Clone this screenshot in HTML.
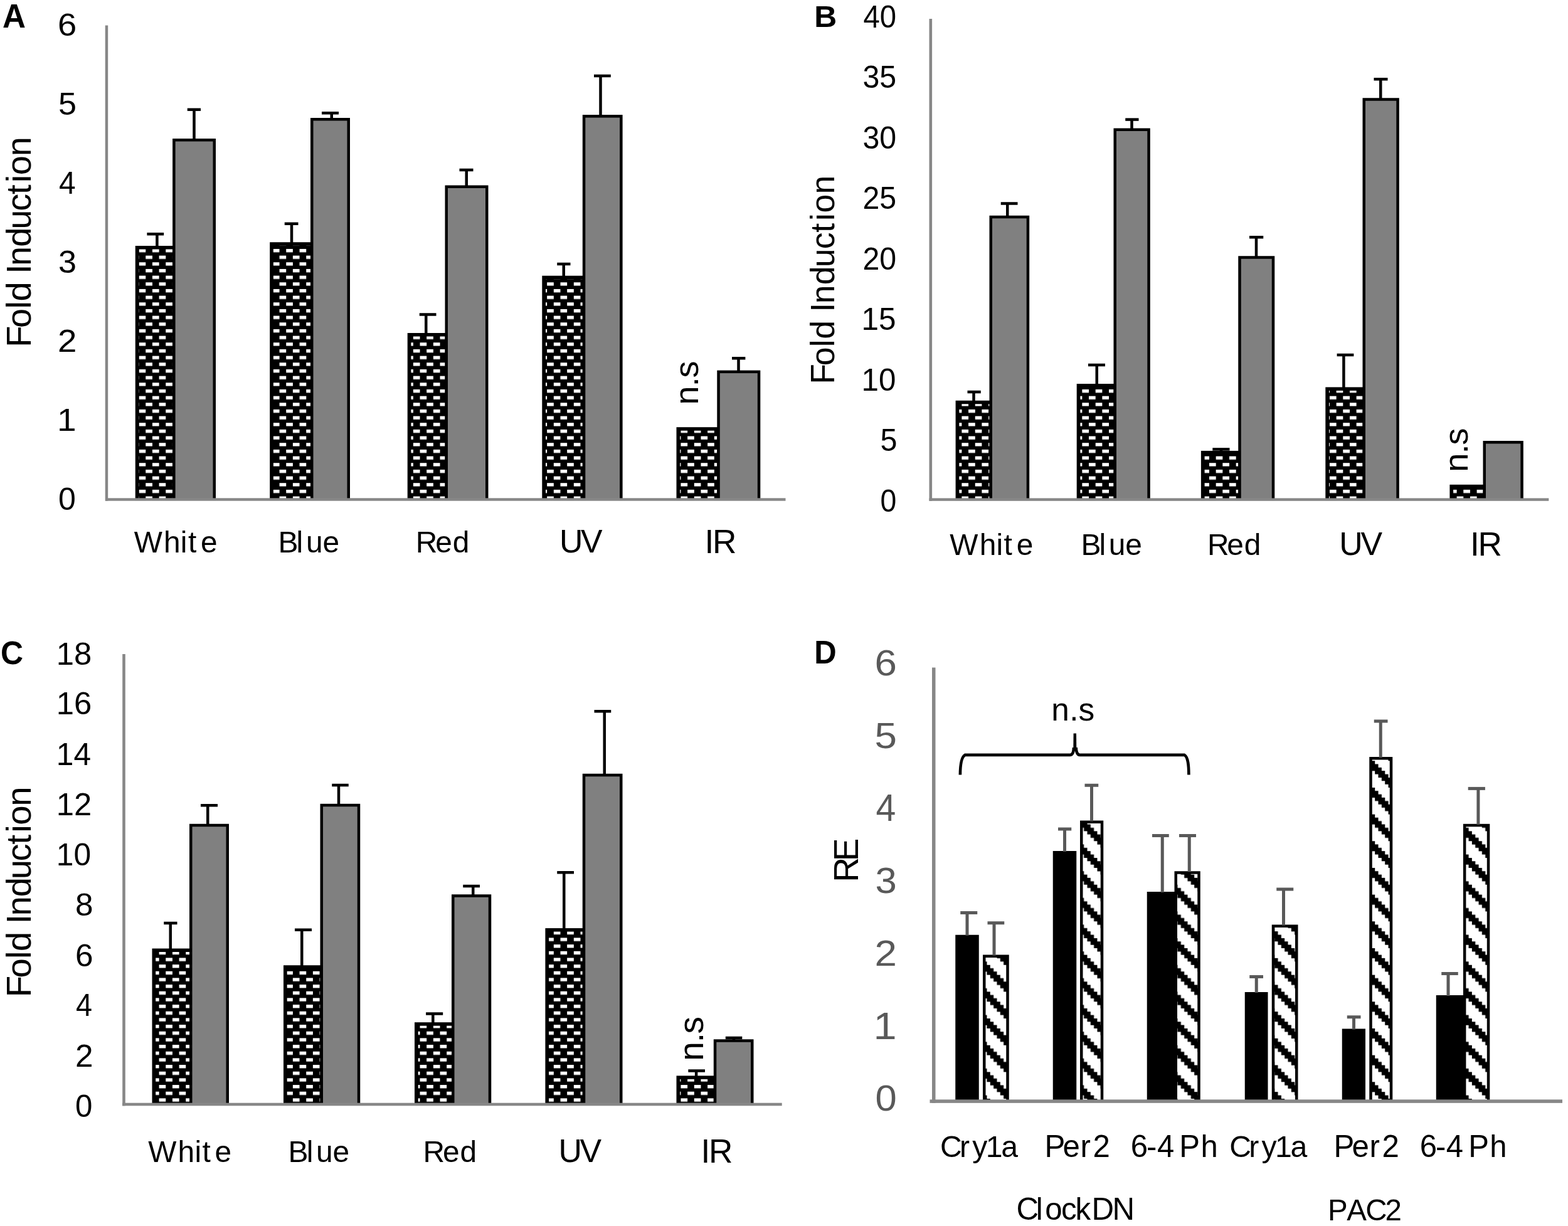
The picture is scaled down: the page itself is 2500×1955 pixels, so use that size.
<!DOCTYPE html>
<html><head><meta charset="utf-8"><title>Figure</title>
<style>html,body{margin:0;padding:0;background:#fff;}body{width:2500px;height:1955px;overflow:hidden;}svg{display:block;}text{font-family:"Liberation Sans", Arial, sans-serif;}</style>
</head><body>
<svg xmlns="http://www.w3.org/2000/svg" width="2500" height="1955" viewBox="0 0 2500 1955" font-family='"Liberation Sans", Arial, sans-serif'>
<defs>
<pattern id="dashA" patternUnits="userSpaceOnUse" x="8.3" y="13" width="21.33" height="21.33">
<rect width="21.33" height="21.33" fill="#000"/>
<rect x="0" y="0" width="10.67" height="5.33" fill="#fff"/>
<rect x="10.67" y="10.67" width="10.67" height="5.33" fill="#fff"/>
</pattern>
<pattern id="dashB" patternUnits="userSpaceOnUse" x="8.3" y="13" width="21.33" height="21.33">
<rect width="21.33" height="21.33" fill="#000"/>
<rect x="0" y="0" width="10.67" height="5.33" fill="#fff"/>
<rect x="10.67" y="10.67" width="10.67" height="5.33" fill="#fff"/>
</pattern>
<pattern id="dashC" patternUnits="userSpaceOnUse" x="8.3" y="13" width="21.33" height="21.33">
<rect width="21.33" height="21.33" fill="#000"/>
<rect x="0" y="0" width="10.67" height="5.33" fill="#fff"/>
<rect x="10.67" y="10.67" width="10.67" height="5.33" fill="#fff"/>
</pattern>
<pattern id="stripe" patternUnits="userSpaceOnUse" x="0" y="18.5" width="42.67" height="42.67">
<rect width="42.67" height="42.67" fill="#fff"/>
<path fill="#000" d="M0 0h5.38v5.38h-5.38zM5.33 0h5.38v5.38h-5.38zM10.67 0h5.38v5.38h-5.38zM5.33 5.33h5.38v5.38h-5.38zM10.67 5.33h5.38v5.38h-5.38zM16 5.33h5.38v5.38h-5.38zM10.67 10.67h5.38v5.38h-5.38zM16 10.67h5.38v5.38h-5.38zM21.33 10.67h5.38v5.38h-5.38zM16 16h5.38v5.38h-5.38zM21.33 16h5.38v5.38h-5.38zM26.67 16h5.38v5.38h-5.38zM21.33 21.33h5.38v5.38h-5.38zM26.67 21.33h5.38v5.38h-5.38zM32 21.33h5.38v5.38h-5.38zM26.67 26.67h5.38v5.38h-5.38zM32 26.67h5.38v5.38h-5.38zM37.33 26.67h5.38v5.38h-5.38zM32 32h5.38v5.38h-5.38zM37.33 32h5.38v5.38h-5.38zM0 32h5.38v5.38h-5.38zM37.33 37.33h5.38v5.38h-5.38zM0 37.33h5.38v5.38h-5.38zM5.33 37.33h5.38v5.38h-5.38z"/>
</pattern>
</defs>
<rect width="2500" height="1955" fill="#fff"/>
<rect x="215.75" y="392" width="63.85" height="404.5" fill="#000"/>
<rect x="221.45" y="397.5" width="53.65" height="399" fill="url(#dashA)"/>
<rect x="248.15" y="373.2" width="4.5" height="19.8" fill="#000"/>
<rect x="234.4" y="370.95" width="26.8" height="4.5" fill="#000"/>
<rect x="275.1" y="221" width="68.9" height="575.5" fill="#000"/>
<rect x="279.6" y="225.5" width="59.9" height="571" fill="#808080"/>
<rect x="307.25" y="174.75" width="4.5" height="47.25" fill="#000"/>
<rect x="298.75" y="172.5" width="21.25" height="4.5" fill="#000"/>
<rect x="430.2" y="386.25" width="69.3" height="410.25" fill="#000"/>
<rect x="435.9" y="391.75" width="59.1" height="404.75" fill="url(#dashA)"/>
<rect x="462.75" y="356.75" width="4.5" height="30.5" fill="#000"/>
<rect x="453.75" y="354.5" width="21.75" height="4.5" fill="#000"/>
<rect x="495" y="188" width="63" height="608.5" fill="#000"/>
<rect x="499.5" y="192.5" width="54" height="604" fill="#808080"/>
<rect x="526.5" y="180.25" width="4.5" height="8.75" fill="#000"/>
<rect x="513" y="178" width="27" height="4.5" fill="#000"/>
<rect x="649.7" y="531" width="64.3" height="265.5" fill="#000"/>
<rect x="655.4" y="536.5" width="54.1" height="260" fill="url(#dashA)"/>
<rect x="677" y="501.5" width="4.5" height="30.5" fill="#000"/>
<rect x="668.75" y="499.25" width="26.75" height="4.5" fill="#000"/>
<rect x="709.5" y="295.5" width="69" height="501" fill="#000"/>
<rect x="714" y="300" width="60" height="496.5" fill="#808080"/>
<rect x="741.5" y="271" width="4.5" height="25.5" fill="#000"/>
<rect x="732.5" y="268.75" width="22" height="4.5" fill="#000"/>
<rect x="864.3" y="439.7" width="69" height="356.8" fill="#000"/>
<rect x="870" y="445.2" width="58.8" height="351.3" fill="url(#dashA)"/>
<rect x="896.5" y="421" width="4.5" height="19.7" fill="#000"/>
<rect x="888.25" y="418.75" width="21.25" height="4.5" fill="#000"/>
<rect x="928.8" y="183.1" width="63.8" height="613.4" fill="#000"/>
<rect x="933.3" y="187.6" width="54.8" height="608.9" fill="#808080"/>
<rect x="955.25" y="121" width="4.5" height="63.1" fill="#000"/>
<rect x="947" y="118.75" width="26.8" height="4.5" fill="#000"/>
<rect x="1078.5" y="681.2" width="69.3" height="115.3" fill="#000"/>
<rect x="1084.2" y="686.7" width="59.1" height="109.8" fill="url(#dashA)"/>
<rect x="1143.3" y="590.6" width="69" height="205.9" fill="#000"/>
<rect x="1147.8" y="595.1" width="60" height="201.4" fill="#808080"/>
<rect x="1175.25" y="571.3" width="4.5" height="20.3" fill="#000"/>
<rect x="1167" y="569.05" width="21.4" height="4.5" fill="#000"/>
<rect x="167.7" y="40.5" width="4.5" height="758.2" fill="#878787"/>
<rect x="168" y="794.3" width="1084.5" height="4.4" fill="#878787"/>
<rect x="1523.6" y="638.75" width="58.4" height="157.85" fill="#000"/>
<rect x="1529.3" y="644.25" width="48.2" height="152.35" fill="url(#dashB)"/>
<rect x="1550.25" y="625" width="4.5" height="14.75" fill="#000"/>
<rect x="1542.5" y="622.75" width="21.25" height="4.5" fill="#000"/>
<rect x="1577.5" y="343.75" width="63.7" height="452.85" fill="#000"/>
<rect x="1582" y="348.25" width="54.7" height="448.35" fill="#808080"/>
<rect x="1604" y="324.5" width="4.5" height="20.25" fill="#000"/>
<rect x="1595.75" y="322.25" width="26.75" height="4.5" fill="#000"/>
<rect x="1716.7" y="612" width="63.3" height="184.6" fill="#000"/>
<rect x="1722.4" y="617.5" width="53.1" height="179.1" fill="url(#dashB)"/>
<rect x="1746.5" y="582" width="4.5" height="31" fill="#000"/>
<rect x="1735" y="579.75" width="27" height="4.5" fill="#000"/>
<rect x="1775.5" y="204.5" width="58.3" height="592.1" fill="#000"/>
<rect x="1780" y="209" width="49.3" height="587.6" fill="#808080"/>
<rect x="1802.25" y="190.6" width="4.5" height="14.9" fill="#000"/>
<rect x="1794.25" y="188.35" width="21.25" height="4.5" fill="#000"/>
<rect x="1914.9" y="718.9" width="63.85" height="77.7" fill="#000"/>
<rect x="1920.6" y="724.4" width="53.65" height="72.2" fill="url(#dashB)"/>
<rect x="1944.75" y="716.4" width="4.5" height="3.5" fill="#000"/>
<rect x="1933.3" y="714.15" width="27.2" height="4.5" fill="#000"/>
<rect x="1974.25" y="408.25" width="58" height="388.35" fill="#000"/>
<rect x="1978.75" y="412.75" width="49" height="383.85" fill="#808080"/>
<rect x="2000.75" y="378.25" width="4.5" height="31" fill="#000"/>
<rect x="1992" y="376" width="22.25" height="4.5" fill="#000"/>
<rect x="2113.3" y="617.4" width="63.7" height="179.2" fill="#000"/>
<rect x="2119" y="622.9" width="53.5" height="173.7" fill="url(#dashB)"/>
<rect x="2140.15" y="566" width="4.5" height="52.4" fill="#000"/>
<rect x="2131.6" y="563.75" width="26.8" height="4.5" fill="#000"/>
<rect x="2172.5" y="156.25" width="58.3" height="640.35" fill="#000"/>
<rect x="2177" y="160.75" width="49.3" height="635.85" fill="#808080"/>
<rect x="2199" y="126.25" width="4.5" height="31" fill="#000"/>
<rect x="2190.5" y="124" width="22" height="4.5" fill="#000"/>
<rect x="2311.4" y="772.8" width="57.6" height="23.8" fill="#000"/>
<rect x="2317.1" y="778.3" width="47.4" height="18.3" fill="url(#dashB)"/>
<rect x="2364.5" y="703" width="64.3" height="93.6" fill="#000"/>
<rect x="2369" y="707.5" width="55.3" height="89.1" fill="#808080"/>
<rect x="1481.5" y="30" width="4.6" height="768.8" fill="#878787"/>
<rect x="1481.5" y="794.4" width="987.8" height="4.4" fill="#878787"/>
<rect x="242.5" y="1512.5" width="64" height="248.5" fill="#000"/>
<rect x="248.2" y="1518" width="53.8" height="243" fill="url(#dashC)"/>
<rect x="269.5" y="1472" width="4.5" height="41.5" fill="#000"/>
<rect x="261.25" y="1469.75" width="21.25" height="4.5" fill="#000"/>
<rect x="302" y="1313.75" width="63" height="447.25" fill="#000"/>
<rect x="306.5" y="1318.25" width="54" height="442.75" fill="#808080"/>
<rect x="329" y="1284.25" width="4.5" height="30.5" fill="#000"/>
<rect x="320" y="1282" width="27" height="4.5" fill="#000"/>
<rect x="452" y="1539.25" width="63" height="221.75" fill="#000"/>
<rect x="457.7" y="1544.75" width="52.8" height="216.25" fill="url(#dashC)"/>
<rect x="479" y="1482.75" width="4.5" height="57.5" fill="#000"/>
<rect x="470" y="1480.5" width="27" height="4.5" fill="#000"/>
<rect x="510.5" y="1281.75" width="63.75" height="479.25" fill="#000"/>
<rect x="515" y="1286.25" width="54.75" height="474.75" fill="#808080"/>
<rect x="537.75" y="1252" width="4.5" height="30.75" fill="#000"/>
<rect x="529.25" y="1249.75" width="26.5" height="4.5" fill="#000"/>
<rect x="661" y="1630.2" width="63.5" height="130.8" fill="#000"/>
<rect x="666.7" y="1635.7" width="53.3" height="125.3" fill="url(#dashC)"/>
<rect x="688.05" y="1616.5" width="4.5" height="14.7" fill="#000"/>
<rect x="679.1" y="1614.25" width="27.1" height="4.5" fill="#000"/>
<rect x="720" y="1426.25" width="63.25" height="334.75" fill="#000"/>
<rect x="724.5" y="1430.75" width="54.25" height="330.25" fill="#808080"/>
<rect x="752" y="1413" width="4.5" height="14.25" fill="#000"/>
<rect x="738.25" y="1410.75" width="26.75" height="4.5" fill="#000"/>
<rect x="869.4" y="1480.1" width="63.85" height="280.9" fill="#000"/>
<rect x="875.1" y="1485.6" width="53.65" height="275.4" fill="url(#dashC)"/>
<rect x="897" y="1391.25" width="4.5" height="89.85" fill="#000"/>
<rect x="888.25" y="1389" width="26.75" height="4.5" fill="#000"/>
<rect x="928.75" y="1233.75" width="63.75" height="527.25" fill="#000"/>
<rect x="933.25" y="1238.25" width="54.75" height="522.75" fill="#808080"/>
<rect x="961.5" y="1134.25" width="4.5" height="100.5" fill="#000"/>
<rect x="947.5" y="1132" width="26.75" height="4.5" fill="#000"/>
<rect x="1078.5" y="1715.4" width="63.8" height="45.6" fill="#000"/>
<rect x="1084.2" y="1720.9" width="53.6" height="40.1" fill="url(#dashC)"/>
<rect x="1107.85" y="1707.5" width="4.5" height="8.9" fill="#000"/>
<rect x="1097.3" y="1705.25" width="26.7" height="4.5" fill="#000"/>
<rect x="1137.8" y="1657.3" width="63.7" height="103.7" fill="#000"/>
<rect x="1142.3" y="1661.8" width="54.7" height="99.2" fill="#808080"/>
<rect x="1167.75" y="1655" width="4.5" height="3.3" fill="#000"/>
<rect x="1156.8" y="1652.75" width="26.5" height="4.5" fill="#000"/>
<rect x="195.2" y="1043" width="4.6" height="720.3" fill="#878787"/>
<rect x="195" y="1758.7" width="1051.7" height="4.6" fill="#878787"/>
<rect x="1523.25" y="1490.75" width="37.5" height="265.35" fill="#000"/>
<rect x="1567" y="1522.5" width="41.75" height="233.6" fill="#000"/>
<rect x="1571.5" y="1527" width="32.75" height="229.1" fill="url(#stripe)"/>
<rect x="1678.75" y="1357" width="37.5" height="399.1" fill="#000"/>
<rect x="1722" y="1308.5" width="37.25" height="447.6" fill="#000"/>
<rect x="1726.5" y="1313" width="28.25" height="443.1" fill="url(#stripe)"/>
<rect x="1828.75" y="1422" width="47.25" height="334.1" fill="#000"/>
<rect x="1872.5" y="1389.25" width="41.25" height="366.85" fill="#000"/>
<rect x="1877" y="1393.75" width="32.25" height="362.35" fill="url(#stripe)"/>
<rect x="1984.75" y="1582" width="36.75" height="174.1" fill="#000"/>
<rect x="2027.75" y="1474.5" width="41.75" height="281.6" fill="#000"/>
<rect x="2032.25" y="1479" width="32.75" height="277.1" fill="url(#stripe)"/>
<rect x="2139.75" y="1640.5" width="37.25" height="115.6" fill="#000"/>
<rect x="2183.25" y="1207" width="37" height="549.1" fill="#000"/>
<rect x="2187.75" y="1211.5" width="28" height="544.6" fill="url(#stripe)"/>
<rect x="2289.75" y="1587" width="47.25" height="169.1" fill="#000"/>
<rect x="2332.9" y="1313.8" width="42.4" height="442.3" fill="#000"/>
<rect x="2337.4" y="1318.3" width="33.4" height="437.8" fill="url(#stripe)"/>
<rect x="1539.5" y="1455.5" width="5" height="36.25" fill="#595959"/>
<rect x="1531.25" y="1453" width="27" height="5" fill="#595959"/>
<rect x="1582.5" y="1471.75" width="5" height="51.75" fill="#595959"/>
<rect x="1574.5" y="1469.25" width="26.75" height="5" fill="#595959"/>
<rect x="1695" y="1322" width="5" height="36" fill="#595959"/>
<rect x="1687" y="1319.5" width="21.25" height="5" fill="#595959"/>
<rect x="1738" y="1252.25" width="5" height="57.25" fill="#595959"/>
<rect x="1729.5" y="1249.75" width="21.75" height="5" fill="#595959"/>
<rect x="1850.75" y="1332.5" width="5" height="90.5" fill="#595959"/>
<rect x="1837" y="1330" width="26.75" height="5" fill="#595959"/>
<rect x="1893.75" y="1332.5" width="5" height="57.75" fill="#595959"/>
<rect x="1880" y="1330" width="27" height="5" fill="#595959"/>
<rect x="2000.75" y="1557.5" width="5" height="25.5" fill="#595959"/>
<rect x="1992.25" y="1555" width="21.75" height="5" fill="#595959"/>
<rect x="2044" y="1418" width="5" height="57.5" fill="#595959"/>
<rect x="2035.25" y="1415.5" width="27" height="5" fill="#595959"/>
<rect x="2156" y="1621.75" width="5" height="19.75" fill="#595959"/>
<rect x="2147.75" y="1619.25" width="21.75" height="5" fill="#595959"/>
<rect x="2198.75" y="1150" width="5" height="58" fill="#595959"/>
<rect x="2190.75" y="1147.5" width="21.75" height="5" fill="#595959"/>
<rect x="2306.5" y="1552.5" width="5" height="35.5" fill="#595959"/>
<rect x="2298.25" y="1550" width="26.5" height="5" fill="#595959"/>
<rect x="2354.4" y="1257.4" width="5" height="57.4" fill="#595959"/>
<rect x="2340.7" y="1254.9" width="27.2" height="5" fill="#595959"/>
<rect x="1486" y="1064.5" width="5.5" height="694.35" fill="#878787"/>
<rect x="1482.5" y="1753.35" width="1008.5" height="5.5" fill="#878787"/>
<path d="M1530.9 1235.5 C1531 1222 1532 1207.5 1538.5 1203.9 L1706 1203.9 C1710 1203.9 1711.8 1199 1712 1192 M1715.6 1192 C1716 1199 1717.6 1203.9 1721.6 1203.9 L1888.5 1203.9 C1894.5 1207.5 1895.3 1222 1895.4 1235.5" fill="none" stroke="#000" stroke-width="4.6"/>
<path d="M1711.3 1196 L1711.6 1169.5 L1716 1169.5 L1716.3 1196 Z" fill="#000"/>
<text x="4" y="44" font-size="52.9" font-weight="bold" textLength="36.97" lengthAdjust="spacingAndGlyphs">A</text>
<text x="1298.25" y="43" font-size="48.16" font-weight="bold" textLength="36.01" lengthAdjust="spacingAndGlyphs">B</text>
<text x="1" y="1059" font-size="51.42" font-weight="bold" textLength="36.09" lengthAdjust="spacingAndGlyphs">C</text>
<text x="1298.25" y="1058.25" font-size="51.46" font-weight="bold" textLength="35.43" lengthAdjust="spacingAndGlyphs">D</text>
<text x="92" y="57" font-size="49.16" textLength="30.21" lengthAdjust="spacingAndGlyphs">6</text>
<text x="93" y="182.64" font-size="49.16" textLength="29" lengthAdjust="spacingAndGlyphs">5</text>
<text x="94" y="309.28" font-size="50.53" textLength="26.63" lengthAdjust="spacingAndGlyphs">4</text>
<text x="93" y="434.92" font-size="49.16" textLength="29" lengthAdjust="spacingAndGlyphs">3</text>
<text x="92" y="560.56" font-size="49.16" textLength="30.38" lengthAdjust="spacingAndGlyphs">2</text>
<text x="91" y="687.2" font-size="50.53" textLength="30.63" lengthAdjust="spacingAndGlyphs">1</text>
<text x="93" y="812.84" font-size="49.16" textLength="27.84" lengthAdjust="spacingAndGlyphs">0</text>
<text x="1376.5" y="43.75" font-size="49.16" textLength="52.55" lengthAdjust="spacingAndGlyphs">40</text>
<text x="1375.5" y="140.25" font-size="49.16" textLength="53.65" lengthAdjust="spacingAndGlyphs">35</text>
<text x="1375.5" y="236.75" font-size="49.16" textLength="53.65" lengthAdjust="spacingAndGlyphs">30</text>
<text x="1375.5" y="333.25" font-size="49.16" textLength="53.69" lengthAdjust="spacingAndGlyphs">25</text>
<text x="1375.5" y="429.75" font-size="49.16" textLength="53.69" lengthAdjust="spacingAndGlyphs">20</text>
<text x="1373.5" y="526.25" font-size="49.16" textLength="54.93" lengthAdjust="spacingAndGlyphs">15</text>
<text x="1373.5" y="622.75" font-size="49.16" textLength="54.86" lengthAdjust="spacingAndGlyphs">10</text>
<text x="1403.5" y="719.25" font-size="49.16" textLength="26.96" lengthAdjust="spacingAndGlyphs">5</text>
<text x="1403.5" y="815.75" font-size="49.16" textLength="25.79" lengthAdjust="spacingAndGlyphs">0</text>
<text x="89.75" y="1059.5" font-size="49.16" textLength="56.47" lengthAdjust="spacingAndGlyphs">18</text>
<text x="89.75" y="1139.21" font-size="49.16" textLength="56.47" lengthAdjust="spacingAndGlyphs">16</text>
<text x="89.75" y="1219.92" font-size="50.53" textLength="55.29" lengthAdjust="spacingAndGlyphs">14</text>
<text x="89.75" y="1299.63" font-size="49.16" textLength="56.47" lengthAdjust="spacingAndGlyphs">12</text>
<text x="89.75" y="1380.34" font-size="49.16" textLength="55.32" lengthAdjust="spacingAndGlyphs">10</text>
<text x="120" y="1460.05" font-size="49.16" textLength="28.53" lengthAdjust="spacingAndGlyphs">8</text>
<text x="120" y="1540.76" font-size="49.16" textLength="28.53" lengthAdjust="spacingAndGlyphs">6</text>
<text x="121" y="1620.47" font-size="50.53" textLength="26.05" lengthAdjust="spacingAndGlyphs">4</text>
<text x="120" y="1701.18" font-size="49.16" textLength="28.53" lengthAdjust="spacingAndGlyphs">2</text>
<text x="120" y="1780.89" font-size="49.16" textLength="27.38" lengthAdjust="spacingAndGlyphs">0</text>
<text x="1394.5" y="1077.2" font-size="56.51" fill="#595959" textLength="35.44" lengthAdjust="spacingAndGlyphs">6</text>
<text x="1394.5" y="1192.5" font-size="57.75" fill="#595959" textLength="35.44" lengthAdjust="spacingAndGlyphs">5</text>
<text x="1396.5" y="1308.8" font-size="60.64" fill="#595959" textLength="31.81" lengthAdjust="spacingAndGlyphs">4</text>
<text x="1395.5" y="1424.1" font-size="56.51" fill="#595959" textLength="34.26" lengthAdjust="spacingAndGlyphs">3</text>
<text x="1394.5" y="1540.4" font-size="57.75" fill="#595959" textLength="35.44" lengthAdjust="spacingAndGlyphs">2</text>
<text x="1392.5" y="1656.7" font-size="60.64" fill="#595959" textLength="37.11" lengthAdjust="spacingAndGlyphs">1</text>
<text x="1395.5" y="1771" font-size="56.51" fill="#595959" textLength="34.26" lengthAdjust="spacingAndGlyphs">0</text>
<text font-size="56.18" transform="translate(48.5 382.05) rotate(-90)" x="-171.63 -140.92 -110.45 -98.39 -67.15 -55.05 -41.91 -11.79 16.22 45.2 72.03 90.72 102.93 132.89" y="0">Fold Induction</text>
<text font-size="53.66" transform="translate(1330.25 443.12) rotate(-90)" x="-169.6 -140.22 -110.17 -97.72 -67.88 -54.7 -41.21 -11.12 16.92 45.85 72.39 91 103.63 133.59" y="0">Fold Induction</text>
<text font-size="56.43" transform="translate(49 1418.5) rotate(-90)" x="-171.83 -140.99 -110.48 -98.46 -67.07 -55.09 -41.98 -11.86 16.15 45.13 72 90.7 102.86 132.82" y="0">Fold Induction</text>
<text font-size="55.04" transform="translate(1368 1368.5) rotate(-90)" x="-38.36 -4.68" y="0">RE</text>
<text font-size="53.89" transform="translate(1113.2 610.85) rotate(-90)" x="-34.68 -5.39 8.45" y="0">n.s</text>
<text font-size="54.57" transform="translate(2339.9 718) rotate(-90)" x="-34.86 -5.48 8.28" y="0">n.s</text>
<text font-size="54.95" transform="translate(1121.2 1656.7) rotate(-90)" x="-34.97 -5.53 8.19" y="0">n.s</text>
<text font-size="51.33" x="1676.34 1705.27 1719.38" y="1149.1">n.s</text>
<text font-size="47.87" x="213.64 260.98 287.84 299.96 319.99" y="881">White</text>
<text font-size="47.87" x="443.53 472.62 487.97 514.39" y="881">Blue</text>
<text font-size="47.87" x="662.82 694.14 721.63" y="881">Red</text>
<text font-size="51.83" x="891.91 926.12" y="881">UV</text>
<text font-size="53.19" x="1123.56 1136" y="882">IR</text>
<text font-size="47.87" x="1514.29 1561.63 1588.49 1600.61 1620.64" y="884.6">White</text>
<text font-size="47.87" x="1723.43 1752.52 1767.87 1794.29" y="884.6">Blue</text>
<text font-size="47.87" x="1925.02 1956.34 1983.83" y="884.6">Red</text>
<text font-size="51.83" x="2135.36 2169.57" y="884.6">UV</text>
<text font-size="53.19" x="2344.01 2356.45" y="885.6">IR</text>
<text font-size="47.87" x="236.19 283.53 310.39 322.51 342.54" y="1853.2">White</text>
<text font-size="47.87" x="459.58 488.67 504.02 530.44" y="1853.2">Blue</text>
<text font-size="47.87" x="674.57 705.89 733.38" y="1853.2">Red</text>
<text font-size="51.83" x="890.41 924.62" y="1853.2">UV</text>
<text font-size="53.19" x="1117.51 1129.95" y="1854.2">IR</text>
<text font-size="48.15" x="1499.11 1530.03 1550.25 1571.65 1596.29" y="1844.5">Cry1a</text>
<text font-size="49.16" x="1665.39 1694.53 1722.44 1742.53" y="1844.5">Per2</text>
<text font-size="49.04" x="1802.85 1828.03 1845.02 1872.29 1880.28 1914.51" y="1844.5">6-4 Ph</text>
<text font-size="48.15" x="1960.36 1991.28 2011.5 2032.9 2057.54" y="1844.5">Cry1a</text>
<text font-size="49.16" x="2126.44 2155.58 2183.49 2203.58" y="1844.5">Per2</text>
<text font-size="49.04" x="2263.7 2288.88 2305.87 2333.14 2341.13 2375.36" y="1844.5">6-4 Ph</text>
<text font-size="49.25" x="1620.45 1651.87 1666.3 1692.04 1714.54 1740.62 1773.5" y="1945.2">ClockDN</text>
<text font-size="47.48" x="2117.06 2147.13 2177.29 2208.38" y="1946.2">PAC2</text>
</svg>
</body></html>
